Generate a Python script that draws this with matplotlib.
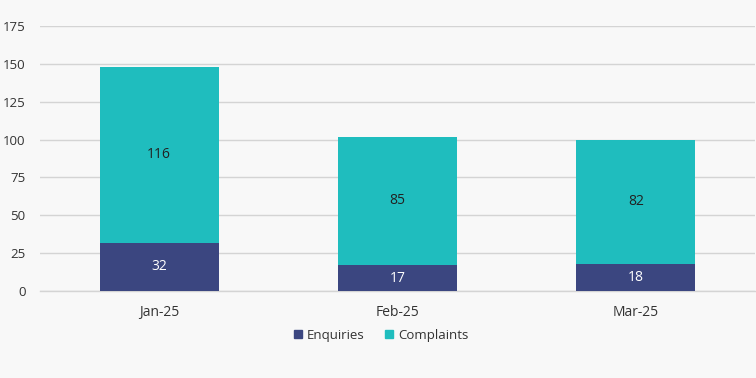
import matplotlib
matplotlib.use("Agg")
import matplotlib.pyplot as plt
from matplotlib.patches import Patch

plt.rcParams['font.family'] = ['Open Sans', 'DejaVu Sans']

categories = ["Jan-25", "Feb-25", "Mar-25"]
enquiries = [32, 17, 18]
complaints = [116, 85, 82]
y_ticks = [0, 25, 50, 75, 100, 125, 150, 175]

navy = "#3b4680"
teal = "#1fbdbe"
bg = "#f8f8f8"

fig = plt.figure(figsize=(7.56, 3.78), dpi=100, facecolor=bg)
ax = fig.add_axes([40/756, 1-291/378, 715/756, (291-26)/378])
ax.set_facecolor(bg)

x = list(range(len(categories)))
b1 = ax.bar(x, enquiries, width=0.5, color=navy, zorder=3)
b2 = ax.bar(x, complaints, width=0.5, bottom=enquiries, color=teal, zorder=3)

for i in x:
    ax.text(i, enquiries[i] / 2, str(enquiries[i]), ha='center', va='center',
            color='white', fontsize=10, zorder=4)
    ax.text(i, enquiries[i] + complaints[i] / 2, str(complaints[i]), ha='center',
            va='center', color='#222222', fontsize=10, zorder=4)

ax.set_xlim(-0.5, 2.5)
ax.set_ylim(0, 175)
ax.set_yticks(y_ticks)
ax.set_xticks(x)
ax.set_xticklabels(categories)
ax.tick_params(axis='both', length=0, colors='#333333')
ax.tick_params(axis='x', pad=10, labelsize=10)
ax.tick_params(axis='y', pad=10.5, labelsize=9.5)
ax.grid(axis='y', color='#d4d4d4', linewidth=1, zorder=0)
ax.axhline(0, color='#d4d4d4', linewidth=1, zorder=2, clip_on=False)
ax.set_axisbelow(True)
for s in ax.spines.values():
    s.set_visible(False)

handles = [Patch(color=navy, label="Enquiries"), Patch(color=teal, label="Complaints")]
fig.legend(handles=handles, loc='center', bbox_to_anchor=(381/756, 1-335/378), ncol=2,
           frameon=False, fontsize=9.5, handlelength=0.6, handleheight=0.6,
           handletextpad=0.35, columnspacing=1.6, labelcolor='#333333')

fig.savefig("out.png", dpi=100, facecolor=bg)
